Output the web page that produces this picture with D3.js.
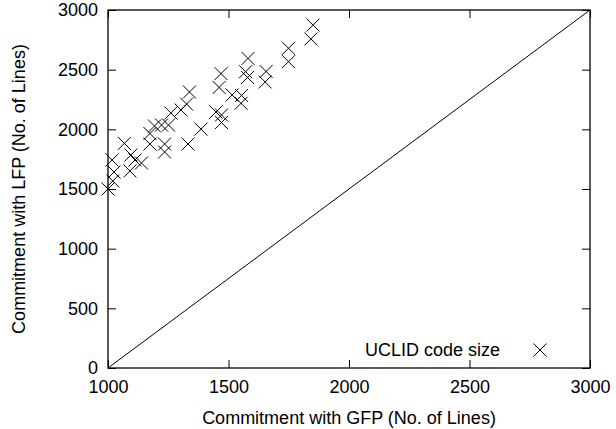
<!DOCTYPE html>
<html>
<head>
<meta charset="utf-8">
<script src="https://cdn.jsdelivr.net/npm/d3@7"></script>
<style>
  html, body { margin: 0; padding: 0; background: #fff; }
  svg { display: block; }
  text { font-family: "Liberation Sans", Arial, Helvetica, sans-serif; fill: #000; }
</style>
</head>
<body>
<svg id="chart" width="616" height="429"></svg>
<script>
// Data: UCLID code size (Commitment with GFP vs LFP, number of lines)
const gfpLines = [1000, 1020, 1025, 1017, 1068, 1095, 1091, 1112, 1139, 1174,
                  1174, 1193, 1235, 1235, 1222, 1251, 1261, 1303, 1326, 1338,
                  1332, 1386, 1448, 1471, 1471, 1461, 1469, 1515, 1554, 1552,
                  1571, 1579, 1581, 1656, 1652, 1749, 1749, 1851, 1842];
const lfpLines = [1500, 1567, 1642, 1743, 1882, 1785, 1651, 1743, 1718, 1877,
                  1965, 2028, 1877, 1810, 2036, 2036, 2137, 2162, 2212, 2313,
                  1877, 2002, 2145, 2120, 2057, 2351, 2467, 2288, 2284, 2218,
                  2483, 2435, 2594, 2485, 2397, 2679, 2567, 2874, 2757];
const xTicks = [1000, 1500, 2000, 2500, 3000];
const yTicks = [0, 500, 1000, 1500, 2000, 2500, 3000];
const diagonal = [[1000, 0], [3000, 3000]];
const seriesName = "UCLID code size";
const xTitle = "Commitment with GFP (No. of Lines)";
const yTitle = "Commitment with LFP (No. of Lines)";

const svg = d3.select("#chart");
const L = 108, R = 590, T = 10, B = 368;
const x = d3.scaleLinear().domain([1000, 3000]).range([L, R]);
const y = d3.scaleLinear().domain([0, 3000]).range([B, T]);
const fs = 18, tickLen = 8;
const fmt = d3.format("d");

// ticks (inward, mirrored)
const bottomAxis = d3.axisBottom(x).tickValues(xTicks).tickSize(-tickLen).tickPadding(12).tickFormat(fmt);
const topAxis = d3.axisTop(x).tickValues(xTicks).tickSize(-tickLen).tickFormat("");
const leftAxis = d3.axisLeft(y).tickValues(yTicks).tickSize(-tickLen).tickPadding(10).tickFormat(fmt);
const rightAxis = d3.axisRight(y).tickValues(yTicks).tickSize(-tickLen).tickFormat("");

function styleAxis(g) {
  g.select(".domain").remove();
  g.selectAll(".tick line").attr("stroke", "#000").attr("stroke-width", 1);
  g.selectAll(".tick text").attr("font-size", fs).attr("font-family", "Liberation Sans, Arial, sans-serif").attr("fill", "#000");
}
svg.append("g").attr("transform", `translate(0,${B})`).call(bottomAxis).call(styleAxis);
svg.append("g").attr("transform", `translate(0,${T})`).call(topAxis).call(styleAxis);
svg.append("g").attr("transform", `translate(${L},0)`).call(leftAxis).call(styleAxis);
svg.append("g").attr("transform", `translate(${R},0)`).call(rightAxis).call(styleAxis);

// frame
svg.append("rect").attr("x", L).attr("y", T).attr("width", R - L).attr("height", B - T)
  .attr("fill", "none").attr("stroke", "#000").attr("stroke-width", 1.3);

// diagonal
svg.append("line")
  .attr("x1", x(diagonal[0][0])).attr("y1", y(diagonal[0][1]))
  .attr("x2", x(diagonal[1][0])).attr("y2", y(diagonal[1][1]))
  .attr("stroke", "#000").attr("stroke-width", 1);

// cross markers
const m = 6.5;
function cross(g, cx, cy) {
  g.append("path")
    .attr("d", `M${cx - m},${cy - m}L${cx + m},${cy + m}M${cx - m},${cy + m}L${cx + m},${cy - m}`)
    .attr("stroke", "#000").attr("stroke-width", 1).attr("fill", "none");
}
const pts = svg.append("g");
gfpLines.forEach((g, i) => cross(pts, x(g), y(lfpLines[i])));

// legend
svg.append("text").attr("x", 500).attr("y", 350).attr("dy", "0.35em")
  .attr("text-anchor", "end").attr("font-size", fs).text(seriesName);
cross(svg, 540, 350);

// axis titles
svg.append("text").attr("x", (L + R) / 2).attr("y", 418).attr("dy", "0.35em")
  .attr("text-anchor", "middle").attr("font-size", fs).text(xTitle);
svg.append("text").attr("transform", `translate(19,${(T + B) / 2}) rotate(-90)`)
  .attr("dy", "0.35em").attr("text-anchor", "middle").attr("font-size", fs).text(yTitle);
</script>
</body>
</html>
